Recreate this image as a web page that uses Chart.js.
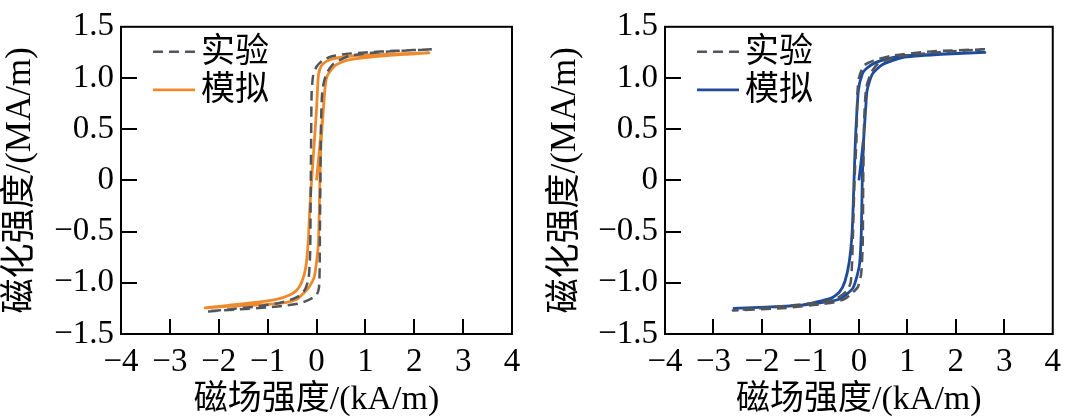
<!DOCTYPE html>
<html>
<head>
<meta charset="utf-8">
<script src="https://cdn.jsdelivr.net/npm/chart.js@4.4.1/dist/chart.umd.min.js"></script>
<style>
  body { margin: 0; background: #fff; }
  #wrap { position: relative; width: 1070px; height: 420px; }
  canvas { position: absolute; top: 0; }
</style>
</head>
<body>
<div id="wrap">
  <canvas id="left" width="535" height="420" style="left:0"></canvas>
  <canvas id="right" width="535" height="420" style="left:535px"></canvas>
</div>
<script>
// --- Data (H in kA/m, M in MA/m) ---

// Left panel, experiment: descending branch then ascending branch
const leftExpH = [2.36, 1.6, 1.0, 0.6, 0.3, 0.12, 0.0, -0.07, -0.1, -0.11, -0.12, -0.13, -0.16, -0.24, -0.4, -0.7, -1.2, -1.8, -2.25,
                  -1.6, -1.0, -0.6, -0.34, -0.17, 0.0, 0.05, 0.065, 0.07, 0.08, 0.09, 0.12, 0.2, 0.35, 0.7, 1.5, 2.36];
const leftExpM = [1.28, 1.265, 1.25, 1.235, 1.21, 1.17, 1.11, 1.02, 0.85, 0.4, -0.2, -0.7, -0.95, -1.07, -1.14, -1.19, -1.23, -1.26, -1.28,
                  -1.26, -1.24, -1.22, -1.2, -1.17, -1.12, -1.05, -0.85, -0.5, 0.0, 0.5, 0.88, 1.04, 1.14, 1.22, 1.26, 1.28];

// Left panel, simulation: initial curve, descending branch, ascending branch
const leftSimH = [0.0, 0.06, 0.11, 0.14, 0.17, 0.21, 0.3, 0.41, 0.6, 0.82, 1.2, 1.8, 2.3,
                  1.6, 1.0, 0.62, 0.35, 0.21, 0.1, 0.04, 0.0, -0.05, -0.1, -0.14, -0.17, -0.22, -0.3, -0.4, -0.55, -0.8, -1.2, -1.8, -2.28,
                  -1.6, -1.0, -0.61, -0.4, -0.28, -0.15, -0.05, 0.0, 0.04, 0.07, 0.09, 0.14, 0.17, 0.21, 0.3, 0.41, 0.6, 0.82, 1.2, 1.8, 2.3];
const leftSimM = [0.0, 0.3, 0.55, 0.69, 0.88, 1.01, 1.08, 1.13, 1.17, 1.19, 1.21, 1.23, 1.245,
                  1.235, 1.225, 1.21, 1.19, 1.165, 1.12, 1.03, 0.69, 0.34, 0.0, -0.3, -0.6, -0.85, -0.99, -1.07, -1.12, -1.16, -1.19, -1.22, -1.245,
                  -1.225, -1.21, -1.19, -1.16, -1.11, -1.04, -0.95, -0.8, -0.6, 0.0, 0.34, 0.69, 0.88, 1.01, 1.08, 1.13, 1.17, 1.19, 1.21, 1.23, 1.245];

// Right panel, experiment
const rightExpH = [2.6, 1.5, 0.7, 0.3, 0.1, 0.0, -0.03, -0.05, -0.09, -0.12, -0.14, -0.17, -0.25, -0.45, -0.8, -1.6, -2.6,
                   -1.5, -0.8, -0.5, -0.3, -0.16, -0.02, 0.05, 0.08, 0.09, 0.11, 0.15, 0.25, 0.4, 0.8, 1.6, 2.6];
const rightExpM = [1.28, 1.26, 1.22, 1.17, 1.12, 1.0, 0.85, 0.4, 0.0, -0.5, -0.8, -1.0, -1.08, -1.15, -1.19, -1.23, -1.27,
                   -1.245, -1.21, -1.19, -1.16, -1.11, -1.04, -0.9, -0.6, 0.0, 0.6, 0.9, 1.05, 1.14, 1.21, 1.25, 1.28];

// Right panel, simulation
const rightSimH = [0.0, 0.05, 0.09, 0.1, 0.14, 0.17, 0.28, 0.48, 0.9, 1.7, 2.6,
                   1.72, 1.0, 0.69, 0.34, 0.15, 0.07, -0.01, -0.07, -0.1, -0.14, -0.2, -0.29, -0.4, -0.57, -0.9, -1.24, -1.8, -2.6,
                   -1.8, -1.2, -0.57, -0.36, -0.12, 0.01, 0.05, 0.07, 0.1, 0.14, 0.17, 0.28, 0.48, 0.9, 1.7, 2.6];
const rightSimM = [0.0, 0.2, 0.38, 0.41, 0.7, 0.88, 1.04, 1.13, 1.2, 1.23, 1.25,
                   1.235, 1.22, 1.2, 1.15, 1.09, 1.04, 0.88, 0.41, 0.0, -0.51, -0.8, -0.99, -1.09, -1.15, -1.19, -1.22, -1.235, -1.25,
                   -1.235, -1.22, -1.18, -1.15, -1.05, -0.83, -0.51, 0.0, 0.41, 0.7, 0.88, 1.04, 1.13, 1.2, 1.23, 1.25];

const seriesLabels = ['实验', '模拟'];
const xTitle = '磁场强度/(kA/m)';
const yTitle = '磁化强度/(MA/m)';

const EXP_COLOR = '#50555c';
const ORANGE = '#ee8a2c';
const BLUE = '#1f4b9c';
const FONT = "'Liberation Serif', 'Noto Sans CJK SC', serif";

Chart.defaults.font.family = FONT;
Chart.defaults.color = '#000';

const zip = (xs, ys) => xs.map((x, i) => ({ x: x, y: ys[i] }));
const minus = s => s.replace('-', '\u2212');

// Box frame, inward ticks and the legend inside the plot
const framePlugin = {
  id: 'frame',
  afterDatasetsDraw(chart) {
    const { ctx, chartArea: a, scales: { x, y } } = chart;
    ctx.save();
    ctx.strokeStyle = '#000';
    ctx.lineWidth = 2;
    ctx.strokeRect(a.left, a.top, a.right - a.left, a.bottom - a.top);
    ctx.beginPath();
    x.ticks.forEach(t => {
      if (t.value <= x.min || t.value >= x.max) return;
      const px = Math.round(x.getPixelForValue(t.value));
      ctx.moveTo(px, a.bottom);
      ctx.lineTo(px, a.bottom - 15);
    });
    y.ticks.forEach(t => {
      if (t.value <= y.min || t.value >= y.max) return;
      const py = Math.round(y.getPixelForValue(t.value));
      ctx.moveTo(a.left, py);
      ctx.lineTo(a.left + 16, py);
    });
    ctx.stroke();

    chart.data.datasets.forEach((ds, i) => {
      const ly = a.top + 25 + i * 38;
      ctx.strokeStyle = ds.borderColor;
      ctx.lineWidth = ds.borderWidth;
      ctx.setLineDash(ds.borderDash || []);
      ctx.beginPath();
      ctx.moveTo(a.left + 32, ly);
      ctx.lineTo(a.left + 74, ly);
      ctx.stroke();
      ctx.setLineDash([]);
      ctx.fillStyle = '#000';
      ctx.font = '34px ' + FONT;
      ctx.textBaseline = 'middle';
      ctx.fillText(ds.label, a.left + 80, ly + 1);
    });
    ctx.restore();
  }
};

function makeChart(id, expH, expM, simH, simM, simColor, yAxisWidth, padRight, yTitlePad) {
  return new Chart(document.getElementById(id), {
    type: 'scatter',
    data: {
      datasets: [{
        label: seriesLabels[0],
        data: zip(expH, expM),
        showLine: true,
        borderColor: EXP_COLOR,
        borderWidth: 2.5,
        borderDash: [10, 6],
        pointRadius: 0,
        tension: 0.2
      }, {
        label: seriesLabels[1],
        data: zip(simH, simM),
        showLine: true,
        borderColor: simColor,
        borderWidth: 2.8,
        pointRadius: 0,
        tension: 0.2
      }]
    },
    options: {
      responsive: false,
      animation: false,
      events: [],
      layout: { padding: { top: 18, right: padRight, left: 0, bottom: 0 } },
      plugins: { legend: { display: false }, tooltip: { enabled: false } },
      scales: {
        x: {
          type: 'linear', min: -4, max: 4,
          grid: { display: false, drawTicks: false },
          border: { display: false },
          ticks: { stepSize: 1, padding: 9, autoSkip: false, maxRotation: 0, font: { size: 33 },
                   callback: v => minus(String(v)) },
          title: { display: true, text: xTitle, font: { size: 34 }, padding: { top: 0, bottom: 0 } },
          afterFit: s => { s.height = 86; }
        },
        y: {
          type: 'linear', min: -1.5, max: 1.5,
          grid: { display: false, drawTicks: false },
          border: { display: false },
          ticks: { stepSize: 0.5, padding: 7, autoSkip: false, font: { size: 33 },
                   callback: v => v === 0 ? '0' : minus(v.toFixed(1)) },
          title: { display: true, text: yTitle, font: { size: 35 }, padding: { top: yTitlePad, bottom: 0 } },
          afterFit: s => { s.width = yAxisWidth; }
        }
      }
    },
    plugins: [framePlugin]
  });
}

makeChart('left', leftExpH, leftExpM, leftSimH, leftSimM, ORANGE, 121, 23, 0);
makeChart('right', rightExpH, rightExpM, rightSimH, rightSimM, BLUE, 130, 13, 10);
</script>
</body>
</html>
